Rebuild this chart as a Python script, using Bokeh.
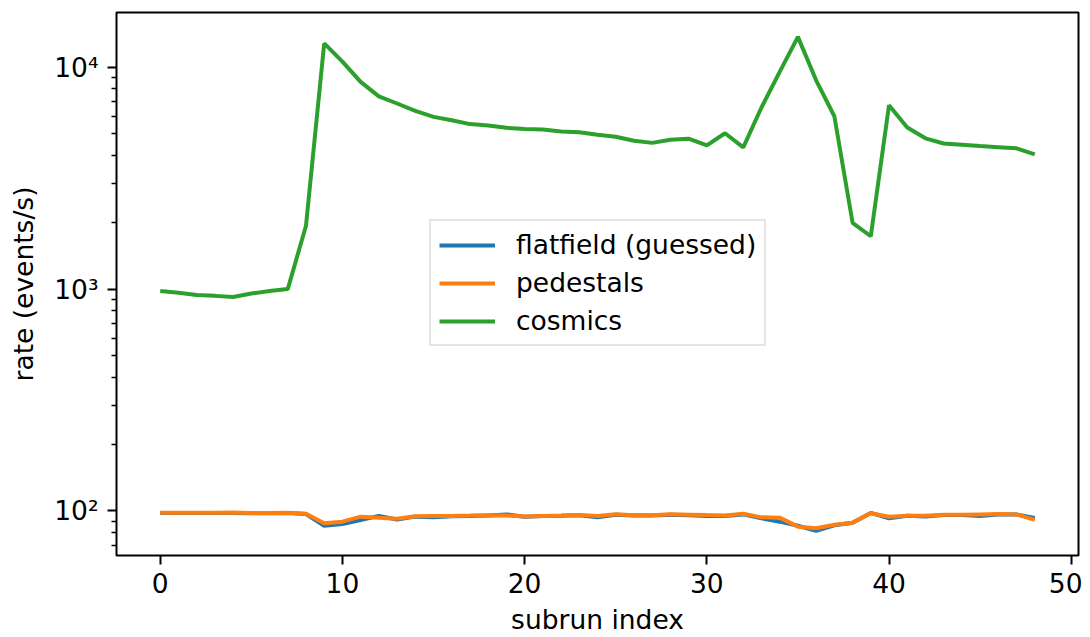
from bokeh.plotting import figure
from bokeh.models import Range1d, FixedTicker, Legend, LegendItem
from bokeh.embed import file_html
from bokeh.resources import INLINE

subrun = list(range(49))

flatfield = [97.8, 97.9, 97.8, 97.9, 98.0, 97.7, 97.6, 97.8, 96.9, 85.8,
             87.4, 91.1, 95.0, 91.5, 94.3, 93.8, 94.6, 95.0, 95.5, 96.5,
             94.2, 94.8, 95.1, 95.6, 93.8, 96.2, 95.4, 95.3, 96.2, 95.6,
             95.0, 95.0, 96.5, 92.7, 89.5, 85.8, 81.3, 86.2, 88.4, 98.0,
             92.6, 95.2, 94.4, 95.8, 96.0, 95.0, 96.4, 96.4, 93.0]

pedestals = [98.2, 98.3, 98.2, 98.3, 98.4, 98.0, 97.9, 98.1, 97.2, 88.0,
             89.5, 94.3, 93.3, 92.3, 94.6, 94.8, 95.0, 95.3, 95.7, 95.5,
             94.4, 95.0, 95.4, 96.0, 94.9, 96.6, 95.7, 95.7, 96.6, 96.2,
             95.8, 95.5, 97.2, 93.6, 93.3, 85.0, 83.6, 86.7, 88.6, 97.6,
             94.2, 95.2, 95.2, 96.1, 96.1, 96.5, 96.8, 96.5, 91.1]

cosmics = [980, 962, 940, 932, 922, 955, 980, 1000, 1930, 12800,
           10600, 8590, 7390, 6860, 6350, 5970, 5770, 5540, 5460, 5330,
           5260, 5240, 5130, 5090, 4960, 4860, 4660, 4560, 4710, 4760,
           4440, 5040, 4350, 6580, 9520, 13700, 8730, 6010, 1990, 1730,
           6740, 5350, 4780, 4530, 4470, 4410, 4360, 4310, 4050]

x_ticks = [0, 10, 20, 30, 40, 50]
y_ticks = [100, 1000, 10000]
y_tick_labels = ["10\u00b2", "10\u00b3", "10\u2074"]
y_minor = [70, 80, 90, 200, 300, 400, 500, 600, 700, 800, 900,
           2000, 3000, 4000, 5000, 6000, 7000, 8000, 9000]

series_names = ["flatfield (guessed)", "pedestals", "cosmics"]
colors = ["#1f77b4", "#ff7f0e", "#2ca02c"]

FONT = "DejaVu Sans"
FS = "26.5px"

p = figure(width=1082, height=637, y_axis_type="log",
           x_range=Range1d(-2.4, 50.4), y_range=Range1d(63.0, 17640),
           output_backend="svg", toolbar_location=None,
           min_border_left=116, min_border_right=4,
           min_border_top=12, min_border_bottom=81)

p.grid.visible = False
p.outline_line_color = "black"
p.outline_line_width = 2
p.background_fill_color = "white"
p.border_fill_color = "white"

renderers = []
for data, c in zip([flatfield, pedestals, cosmics], colors):
    r = p.line(subrun, data, line_color=c, line_width=4)
    renderers.append(r)

p.xaxis.ticker = FixedTicker(ticks=x_ticks)
p.yaxis.ticker = FixedTicker(ticks=y_ticks, minor_ticks=y_minor)
p.yaxis.major_label_overrides = {t: l for t, l in zip(y_ticks, y_tick_labels)}

p.xaxis.axis_label = "subrun index"
p.yaxis.axis_label = "rate (events/s)"

for ax in [p.xaxis[0], p.yaxis[0]]:
    ax.axis_line_color = None
    ax.major_tick_in = 0
    ax.major_tick_out = 9
    ax.minor_tick_in = 0
    ax.minor_tick_out = 5
    ax.major_tick_line_width = 2
    ax.minor_tick_line_width = 1.5
    ax.major_tick_line_color = "black"
    ax.minor_tick_line_color = "black"
    ax.major_label_text_font = FONT
    ax.major_label_text_font_size = FS
    ax.major_label_text_color = "black"
    ax.axis_label_text_font = FONT
    ax.axis_label_text_font_size = FS
    ax.axis_label_text_font_style = "normal"
    ax.axis_label_text_color = "black"

p.xaxis.minor_tick_line_color = None
p.xaxis.major_label_standoff = 8
p.xaxis.axis_label_standoff = 8
p.yaxis.major_label_standoff = 9
p.yaxis.axis_label_standoff = 12

legend = Legend(items=[LegendItem(label=n, renderers=[r]) for n, r in zip(series_names, renderers)],
                location=(313, 209))
legend.label_text_font = FONT
legend.label_text_font_size = FS
legend.label_text_color = "black"
legend.glyph_width = 56
legend.glyph_height = 30
legend.label_height = 30
legend.label_standoff = 21
legend.spacing = 7
legend.padding = 8
legend.border_line_color = "#cccccc"
legend.border_line_width = 2.5
legend.background_fill_alpha = 0.8
legend.background_fill_color = "white"
p.add_layout(legend, "center")

open("out.html", "w").write(file_html(p, INLINE))
